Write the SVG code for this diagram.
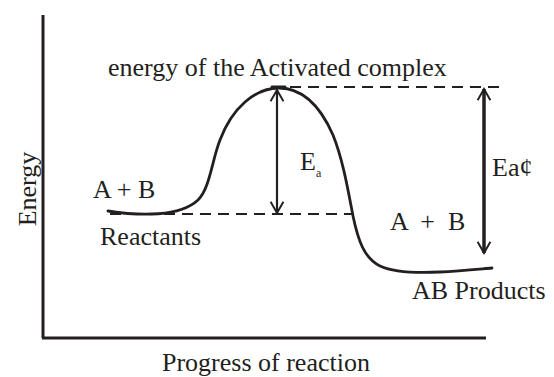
<svg xmlns="http://www.w3.org/2000/svg" width="554" height="377" viewBox="0 0 554 377">
<style>
  text { font-family: "Liberation Serif", "Times New Roman", serif; fill: #231f20; font-size: 26px; }
  .axis { stroke: #231f20; stroke-width: 3; fill: none; }
  .curve { stroke: #231f20; stroke-width: 2.8; fill: none; stroke-linecap: round; }
  .dash { stroke: #231f20; stroke-width: 2.2; fill: none; stroke-dasharray: 11 7; }
  .arrow { stroke: #231f20; stroke-width: 2.2; fill: none; marker-start: url(#head); marker-end: url(#head); }
  .arrow-bold { stroke: #231f20; stroke-width: 3.5; fill: none; marker-start: url(#head); marker-end: url(#head); }
</style>
<defs>
  <marker id="head" viewBox="0 0 20 20" refX="18" refY="10" markerWidth="16" markerHeight="16" markerUnits="userSpaceOnUse" orient="auto-start-reverse">
    <path d="M4,2 L18,10 L4,18" fill="none" stroke="#231f20" stroke-width="2.4"/>
  </marker>
</defs>
<rect width="554" height="377" fill="#ffffff"/>
<g id="axes">
  <line class="axis" x1="43" y1="15" x2="43" y2="338"/>
  <line class="axis" x1="42" y1="338" x2="486" y2="338"/>
</g>
<g id="connectors">
  <path id="reaction-curve" class="curve" d="M108,211 C140,216 180,217 198,200 C210,188 212,160 220,140 C232,108 255,88 279,88 C305,88 322,110 333,135 C343,160 348,190 353,216 C358,240 364,258 380,266 C395,273 420,273 440,272 C460,271 480,269 492,268"/>
  <line class="curve" x1="272" y1="87" x2="285" y2="87" stroke-width="3.5"/>
  <line class="dash" x1="290" y1="87" x2="505" y2="87"/>
  <line class="dash" x1="110" y1="214" x2="354" y2="214"/>
  <line class="arrow" x1="277" y1="90" x2="277" y2="213"/>
  <line class="arrow-bold" x1="484" y1="89" x2="484" y2="253"/>
</g>
<g id="labels">
  <text id="title" x="108" y="76" font-size="27">energy of the Activated complex</text>
  <text id="ea" x="300" y="170">E<tspan font-size="12" dy="7">a</tspan></text>
  <text id="ea-prime" x="492" y="176">Ea¢</text>
  <text id="reactants-ab" x="93" y="198">A + B</text>
  <text id="reactants" x="100" y="245">Reactants</text>
  <text id="products-ab" x="390" y="230" xml:space="preserve">A  +  B</text>
  <text id="products" x="412" y="299" font-size="27">AB Products</text>
  <text id="x-label" x="162" y="371" font-size="27">Progress of reaction</text>
  <text id="y-label" transform="translate(36,189) rotate(-90)" text-anchor="middle">Energy</text>
</g>
</svg>
